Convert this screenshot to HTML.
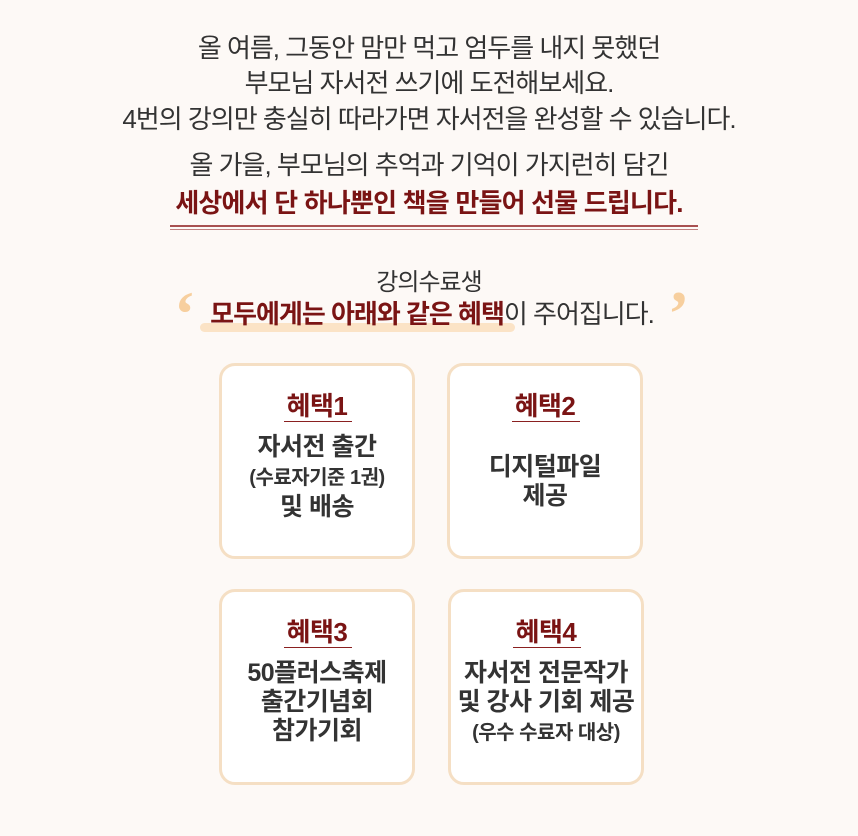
<!DOCTYPE html>
<html><head><meta charset="utf-8"><style>
*{margin:0;padding:0;box-sizing:border-box}
body{width:858px;height:836px;background:#fdf9f6;font-family:"Liberation Sans","Noto Sans CJK KR",sans-serif;position:relative;overflow:hidden;color:#333}
.l{position:absolute;left:0;width:858px;text-align:center;white-space:nowrap;line-height:1}
.t{font-size:26px;letter-spacing:-1px}
.r{color:#7a1414;font-weight:bold}
.card{position:absolute;width:196px;height:196px;background:#fff;border:3px solid #f5dfc4;border-radius:16px;text-align:center}
.card h3{position:absolute;top:27px;left:0;width:100%;font-size:26px;letter-spacing:-0.5px;color:#7a1414;font-weight:bold;line-height:1}
.card .u{position:absolute;top:55px;left:62px;width:68px;height:1px;background:#8a2020}
.card .b{position:absolute;top:67px;left:0;width:100%;font-weight:bold;font-size:25px;line-height:29px;letter-spacing:-0.5px;color:#333}
.s{font-size:20px}
</style></head><body>
<div class="l t" style="top:35px">올 여름, 그동안 맘만 먹고 엄두를 내지 못했던</div>
<div class="l t" style="top:70px">부모님 자서전 쓰기에 도전해보세요.</div>
<div class="l t" style="top:106px">4번의 강의만 충실히 따라가면 자서전을 완성할 수 있습니다.</div>
<div class="l t" style="top:152px">올 가을, 부모님의 추억과 기억이 가지런히 담긴</div>
<div class="l t r" style="top:190px;letter-spacing:-0.8px">세상에서 단 하나뿐인 책을 만들어 선물 드립니다.</div>
<div style="position:absolute;left:170px;top:225px;width:528px;height:2px;background:#a85050"></div>
<div style="position:absolute;left:170px;top:229px;width:528px;height:1px;background:#c08080"></div>
<div class="l t" style="top:271px;font-size:24px">강의수료생</div>
<div style="position:absolute;left:200px;top:323px;width:315px;height:9px;background:#fbe3c6;border-radius:5px"></div>
<div class="l t" style="top:301px;left:3px"><span class="r">모두에게는 아래와 같은 혜택</span>이 주어집니다.</div>
<div style="position:absolute;left:174px;top:282px;font-size:64px;color:#f7cf9e;font-weight:bold;font-family:'Liberation Serif',serif;line-height:1">‘</div>
<div style="position:absolute;left:668px;top:282px;font-size:64px;color:#f7cf9e;font-weight:bold;font-family:'Liberation Serif',serif;line-height:1">’</div>

<div class="card" style="left:219px;top:363px"><h3>혜택1</h3><div class="u"></div><div class="b">자서전 출간<br><span class="s">(수료자기준 1권)</span><br>및 배송</div></div>
<div class="card" style="left:447px;top:363px"><h3>혜택2</h3><div class="u"></div><div class="b" style="top:87px">디지털파일<br>제공</div></div>
<div class="card" style="left:219px;top:589px"><h3>혜택3</h3><div class="u"></div><div class="b">50플러스축제<br>출간기념회<br>참가기회</div></div>
<div class="card" style="left:448px;top:589px"><h3>혜택4</h3><div class="u"></div><div class="b">자서전 전문작가<br>및 강사 기회 제공<br><span class="s">(우수 수료자 대상)</span></div></div>
</body></html>
